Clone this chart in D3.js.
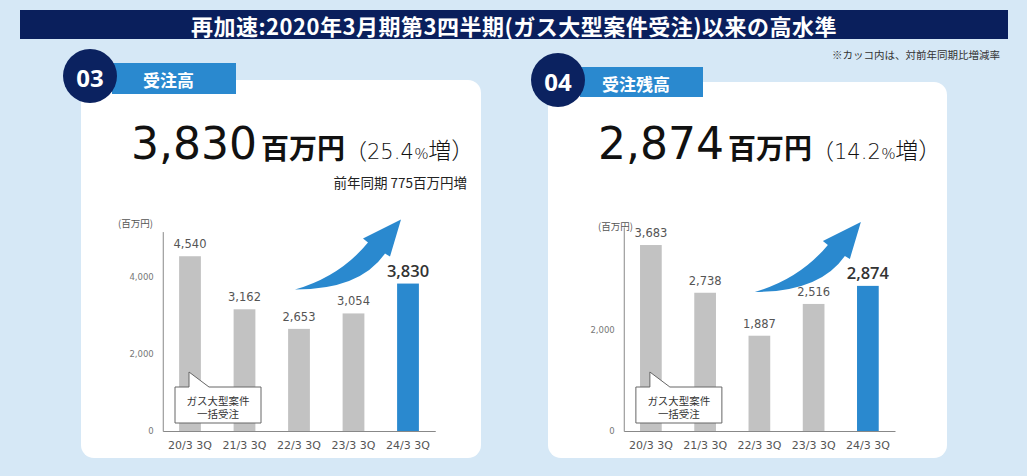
<!DOCTYPE html>
<html><head><meta charset="utf-8">
<script src="https://cdn.jsdelivr.net/npm/d3@7"></script>
<style>
html,body{margin:0;padding:0;background:#d6e8f6;}
svg{display:block;}
</style></head>
<body>
<svg id="c" width="1027" height="476" font-family="'Noto Sans CJK JP','Noto Sans',sans-serif"></svg>
<script>
// ---- data ----
const titleText = "再加速:2020年3月期第3四半期(ガス大型案件受注)以来の高水準";
const noteText = "※カッコ内は、対前年同期比増減率";
const categories = ["20/3 3Q","21/3 3Q","22/3 3Q","23/3 3Q","24/3 3Q"];
const orderValues = [4540, 3162, 2653, 3054, 3830];
const backlogValues = [3683, 2738, 1887, 2516, 2874];
const orderTicks = [0, 2000, 4000];
const backlogTicks = [0, 2000];
const panelNumbers = ["03", "04"];
const panelTitles = ["受注高", "受注残高"];
const headlineValues = ["3,830", "2,874"];
const headlineRates = ["25.4", "14.2"];
const subNotes = ["前年同期 775百万円増", ""];
const unitLabel = "(百万円)";
const calloutLines = ["ガス大型案件", "一括受注"];

const svg = d3.select("#c");
const navy = "#0b2260", blue = "#2a89cf", gray = "#c2c2c2";
const numFont = "'DejaVu Sans',sans-serif";

// title bar
svg.append("rect").attr("x",20).attr("y",10).attr("width",988).attr("height",29).attr("fill","#0a1f5c");
svg.append("text").attr("x",514).attr("y",25).attr("text-anchor","middle").attr("dominant-baseline","central")
  .attr("fill","#fff").attr("font-size",22).attr("font-weight",700).attr("letter-spacing",0.5).text(titleText);
svg.append("text").attr("x",1000).attr("y",59).attr("text-anchor","end").attr("fill","#333")
  .attr("font-size",10.5).text(noteText);

const panels = [
  {x:81, y:80, w:400, h:378, cx:90, cy:76, barX:112, barY:63, barR:236, barB:94, titleX:143,
   axisX0:162.75, axisX1:435.25, axisTop:231.6, axisBase:431, domainMax:5180,
   values:orderValues, ticks:orderTicks, numX:131, unitX:118, unitY:223, i:0},
  {x:548, y:82, w:399, h:376, cx:558, cy:80, barX:580, barY:67, barR:703, barB:97, titleX:602,
   axisX0:623.75, axisX1:895, axisTop:227, axisBase:431, domainMax:4040,
   values:backlogValues, ticks:backlogTicks, numX:598, unitX:598, unitY:226, i:1}
];

panels.forEach(p => {
  const g = svg.append("g");
  g.append("rect").attr("x",p.x).attr("y",p.y).attr("width",p.w).attr("height",p.h).attr("rx",13).attr("fill","#fff");
  g.append("rect").attr("x",p.barX).attr("y",p.barY).attr("width",p.barR-p.barX).attr("height",p.barB-p.barY).attr("fill",blue);
  g.append("circle").attr("cx",p.cx).attr("cy",p.cy).attr("r",27).attr("fill",navy);
  g.append("text").attr("x",p.cx).attr("y",p.cy+1).attr("text-anchor","middle").attr("dominant-baseline","central")
    .attr("fill","#fff").attr("font-size",24).attr("font-weight",700).attr("font-family","'Noto Sans',sans-serif").text(panelNumbers[p.i]);
  g.append("text").attr("x",p.titleX).attr("y",(p.barY+p.barB)/2+1).attr("dominant-baseline","central")
    .attr("fill","#fff").attr("font-size",17).attr("font-weight",700).text(panelTitles[p.i]);

  // headline
  const h = g.append("text").attr("x",p.numX).attr("y",159).attr("fill","#111");
  h.append("tspan").attr("font-size",44).attr("font-family",numFont).text(headlineValues[p.i]);
  h.append("tspan").attr("dx",4).attr("font-size",28).attr("font-weight",700).text("百万円");
  h.append("tspan").attr("font-size",22).attr("font-weight",300).text("（");
  h.append("tspan").attr("font-size",21).attr("font-weight",200).attr("font-family",numFont).text(headlineRates[p.i]);
  h.append("tspan").attr("dx",1).attr("font-size",15).attr("font-weight",300).text("%");
  h.append("tspan").attr("font-size",23).attr("font-weight",300).text("増）");
  if (subNotes[p.i]) {
    g.append("text").attr("x",467).attr("y",188).attr("text-anchor","end").attr("fill","#222")
      .attr("font-size",13.5).text(subNotes[p.i]);
  }

  // scales
  const x = d3.scaleBand().domain(categories).range([p.axisX0, p.axisX1]).paddingInner(0.6).paddingOuter(0.3);
  const y = d3.scaleLinear().domain([0, p.domainMax]).range([p.axisBase, p.axisTop]);

  // unit
  g.append("text").attr("x",p.unitX).attr("y",p.unitY).attr("dominant-baseline","central")
    .attr("fill","#555").attr("font-size",9.5).text(unitLabel);

  // y axis
  const ya = g.append("g").attr("transform",`translate(${p.axisX0},0)`)
    .call(d3.axisLeft(y).tickValues(p.ticks).tickSize(0).tickPadding(9).tickFormat(d3.format(",")));
  ya.attr("font-family",numFont);
  ya.select(".domain").attr("stroke","#888").attr("stroke-width",1);
  ya.selectAll("text").attr("fill","#777").attr("font-size",8.5);

  // bars
  g.selectAll("rect.bar").data(p.values).enter().append("rect").attr("class","bar")
    .attr("x",(d,i)=>x(categories[i])).attr("width",x.bandwidth())
    .attr("y",d=>y(d)).attr("height",d=>y(0)-y(d))
    .attr("fill",(d,i)=>i===categories.length-1?blue:gray);

  // x axis
  const xa = g.append("g").attr("transform",`translate(0,${p.axisBase})`)
    .call(d3.axisBottom(x).tickSize(0).tickPadding(10));
  xa.attr("font-family",numFont);
  xa.select(".domain").attr("stroke","#888").attr("stroke-width",1);
  xa.selectAll("text").attr("fill","#555").attr("font-size",11);

  // value labels
  const last = categories.length-1;
  g.selectAll("text.val").data(p.values).enter().append("text").attr("class","val")
    .attr("x",(d,i)=>x(categories[i])+x.bandwidth()/2)
    .attr("y",(d,i)=>y(d)-(i===last?7:8))
    .attr("text-anchor","middle")
    .attr("font-family",(d,i)=>i===last?"'Open Sans',sans-serif":numFont)
    .attr("fill",(d,i)=>i===last?"#333":"#555")
    .attr("font-size",(d,i)=>i===last?16.5:11.5)
    .attr("font-weight",(d,i)=>i===last?600:400)
    .text(d=>d3.format(",")(d));

  // callout
  const c0 = x(categories[0]) + x.bandwidth()/2;
  const bx = c0 - 15, by = p.axisBase - 44, bw = 86, bh = 36;
  g.append("path").attr("fill","#fff").attr("stroke","#666").attr("stroke-width",1)
    .attr("d",`M${bx},${by} L${c0-1},${by} L${c0-1},${by-15} L${c0+19},${by} L${bx+bw},${by} L${bx+bw},${by+bh} L${bx},${by+bh} Z`);
  calloutLines.forEach((t,k)=>{
    g.append("text").attr("x",bx+bw/2).attr("y",by+13+k*13).attr("text-anchor","middle").attr("dominant-baseline","central")
      .attr("fill","#333").attr("font-size",10.5).text(t);
  });

  // arrow
  const tx = x(categories[last]) + x.bandwidth()/2 - 7;
  const ty = y(p.values[last]) - 64;
  g.append("path").attr("fill",blue).attr("transform",`translate(${tx},${ty})`)
    .attr("d","M0,0 L-38,19 L-33,23 Q-61,57 -106,70 Q-41,70 -16,34 L-11,37 Z");
});
</script>
</body></html>
